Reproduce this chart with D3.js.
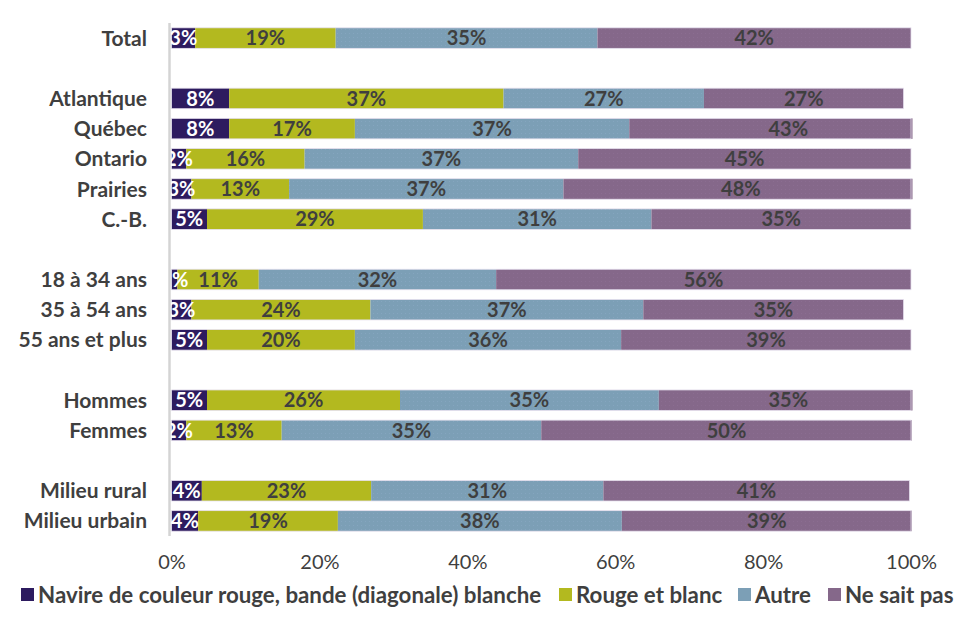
<!DOCTYPE html>
<html>
<head>
<meta charset="utf-8">
<script src="https://cdn.jsdelivr.net/npm/d3@7"></script>
<style>
  html, body { margin: 0; padding: 0; background: #ffffff; }
  svg { display: block; }
  text { font-family: Lato, "Open Sans", sans-serif; }
</style>
</head>
<body>
<svg id="chart" width="960" height="641"></svg>
<script>
// ---- Data ----
const categories = ["Total", "", "Atlantique", "Québec", "Ontario", "Prairies", "C.-B.", "",
  "18 à 34 ans", "35 à 54 ans", "55 ans et plus", "", "Hommes", "Femmes", "", "Milieu rural", "Milieu urbain"];
const seriesNames = ["Navire de couleur rouge, bande (diagonale) blanche", "Rouge et blanc", "Autre", "Ne sait pas"];
const navire     = [3.2, null, 7.8, 7.8, 2.0, 2.7, 4.8, null, 0.8, 2.7, 4.8, null, 4.8, 2.0, null, 4.1, 3.6];
const rougeBlanc = [19.0, null, 37.1, 17.0, 16.0, 13.2, 29.2, null, 11.0, 24.2, 20.0, null, 26.1, 12.9, null, 22.9, 18.9];
const autre      = [35.4, null, 27.1, 37.1, 37.0, 37.1, 30.9, null, 32.1, 36.9, 36.0, null, 35.0, 35.1, null, 31.4, 38.4];
const neSaitPas  = [42.4, null, 27.0, 43.0, 45.0, 48.0, 35.1, null, 56.1, 35.2, 39.2, null, 35.0, 50.1, null, 41.4, 39.2];
const tickValues = [0, 20, 40, 60, 80, 100];

const colors = ["#2d1b5f", "#b3b91f", "#7c9fb6", "#85688a"];
const labelColors = ["#ffffff", "#3f3f3f", "#3f3f3f", "#3f3f3f"];
const seriesValues = [navire, rougeBlanc, autre, neSaitPas];

const svg = d3.select("#chart");
const x = d3.scaleLinear().domain([0, 100]).range([171.5, 911]);
const y = d3.scaleBand().domain(categories.map((c, i) => i)).range([23, 536])
  .paddingInner(0.32).paddingOuter(0.16);

// Build stacked rows
const rows = categories.map((c, i) => {
  const vals = seriesValues.map(s => s[i]);
  return { i, name: c, vals };
}).filter(r => r.vals[0] !== null);

const segs = [];
rows.forEach(r => {
  let acc = 0;
  r.vals.forEach((v, k) => {
    segs.push({ row: r.i, k, x0: acc, x1: acc + v, v });
    acc += v;
  });
});

// clip bars at 100 %
const defs = svg.append("defs");
defs.append("clipPath").attr("id", "plotclip")
  .append("rect").attr("x", x(0)).attr("y", 0)
  .attr("width", x(100) - x(0) + 1.5).attr("height", 641);

// dotted texture pattern
colors.forEach((c, k) => {
  const p = defs.append("pattern").attr("id", "pat" + k)
    .attr("patternUnits", "userSpaceOnUse").attr("width", 4).attr("height", 4);
  p.append("rect").attr("width", 4).attr("height", 4).attr("fill", c);
  if (k >= 2) {
    p.append("rect").attr("x", 1).attr("y", 1).attr("width", 1).attr("height", 1)
      .attr("fill", k === 2 ? "#8aa9c4" : "#8f6f96").attr("opacity", 0.6);
  }
});

const bars = svg.append("g").attr("clip-path", "url(#plotclip)");
bars.selectAll("rect").data(segs).join("rect")
  .attr("x", d => x(d.x0))
  .attr("y", d => y(d.row))
  .attr("width", d => x(d.x1) - x(d.x0))
  .attr("height", y.bandwidth())
  .attr("fill", d => "url(#pat" + d.k + ")");

// light outline around each bar
bars.selectAll("rect.outline").data(rows).join("rect").attr("class", "outline")
  .attr("x", d => x(0))
  .attr("y", d => y(d.i))
  .attr("width", d => x(Math.min(100, d3.sum(d.vals))) - x(0))
  .attr("height", y.bandwidth())
  .attr("fill", "none").attr("stroke", "#e6e0ee").attr("stroke-width", 0.8);

// value labels
svg.append("g").selectAll("text").data(segs).join("text")
  .attr("x", d => (x(d.x0) + x(d.x1)) / 2)
  .attr("y", d => y(d.row) + y.bandwidth() / 2)
  .attr("dy", "0.36em")
  .attr("text-anchor", "middle")
  .attr("font-size", 20)
  .attr("font-weight", "bold")
  .attr("fill", d => labelColors[d.k])
  .text(d => Math.round(d.v) + "%");

// vertical axis line
svg.append("line")
  .attr("x1", 169.5).attr("x2", 169.5)
  .attr("y1", 23).attr("y2", 536)
  .attr("stroke", "#d4d4d4").attr("stroke-width", 2.5);

// category labels
svg.append("g").selectAll("text").data(rows).join("text")
  .attr("x", 147)
  .attr("y", d => y(d.i) + y.bandwidth() / 2)
  .attr("dy", "0.36em")
  .attr("text-anchor", "end")
  .attr("font-size", 21)
  .attr("font-weight", "bold")
  .attr("fill", "#3f3f3f")
  .text(d => d.name);

// x axis (tick labels only)
const xAxis = svg.append("g").attr("transform", "translate(0,552)")
  .call(d3.axisBottom(x).tickValues(tickValues).tickFormat(d => d + "%").tickSize(0));
xAxis.select(".domain").remove();
xAxis.selectAll("text")
  .attr("font-family", "Lato, sans-serif")
  .attr("font-size", 20)
  .attr("fill", "#3f3f3f")
  .attr("dy", "0.71em");

// legend
const legendX = [21, 559, 738, 828];
const leg = svg.append("g").selectAll("g").data(seriesNames).join("g")
  .attr("transform", (d, k) => `translate(${legendX[k]},588)`);
leg.append("rect").attr("width", 13).attr("height", 13).attr("fill", (d, k) => colors[k]);
leg.append("text")
  .attr("x", 17).attr("y", 7).attr("dy", "0.36em")
  .attr("font-size", 22.3)
  .attr("font-weight", "bold")
  .attr("fill", "#3f3f3f")
  .text(d => d);
</script>
</body>
</html>
